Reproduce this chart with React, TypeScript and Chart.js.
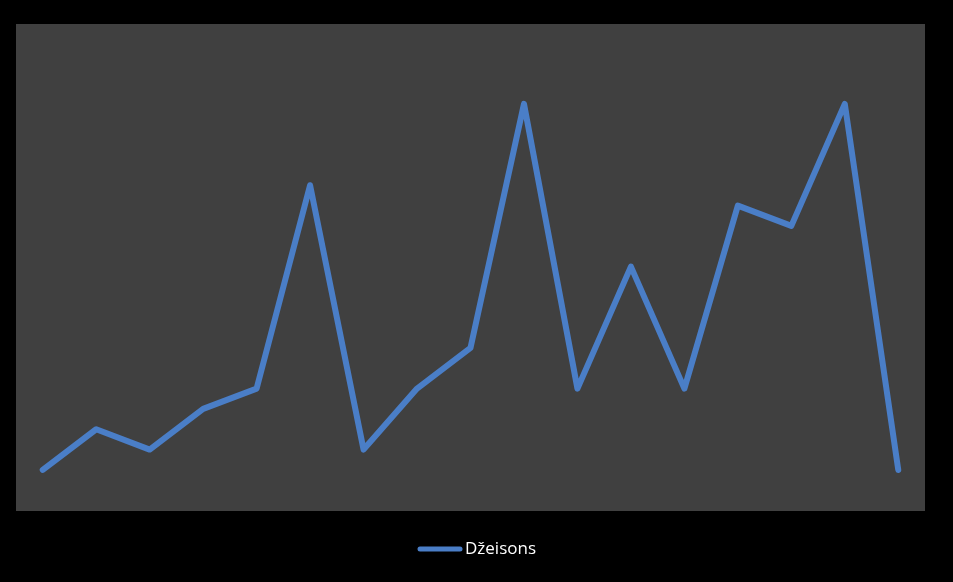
import React, { useEffect, useRef } from "react";
import { Chart, registerables } from "chart.js";

Chart.register(...registerables);

const categories = ["1", "2", "3", "4", "5", "6", "7", "8", "9", "10", "11", "12", "13", "14", "15", "16", "17"];
const seriesName = "Džeisons";
const seriesValues = [1, 3, 2, 4, 5, 15, 2, 5, 7, 19, 5, 11, 5, 14, 13, 19, 1];
const lineColor = "#4A7EC7";

const plotBg = {
  id: "plotBg",
  beforeDraw(chart: any) {
    const { ctx, chartArea } = chart;
    ctx.save();
    ctx.fillStyle = "#000000";
    ctx.fillRect(0, 0, chart.width, chart.height);
    ctx.fillStyle = "#404040";
    ctx.fillRect(chartArea.left, chartArea.top, chartArea.right - chartArea.left, chartArea.bottom - chartArea.top);
    ctx.restore();
  },
  afterDraw(chart: any) {
    const { ctx } = chart;
    const label = chart.data.datasets[0].label;
    ctx.save();
    ctx.font = "17px 'Open Sans', 'DejaVu Sans', sans-serif";
    const lineW = 40;
    const gap = 5;
    const x0 = 420;
    const y = 549;
    ctx.strokeStyle = chart.data.datasets[0].borderColor;
    ctx.lineWidth = 5;
    ctx.lineCap = "round";
    ctx.beginPath();
    ctx.moveTo(x0, y);
    ctx.lineTo(x0 + lineW, y);
    ctx.stroke();
    ctx.fillStyle = "#FFFFFF";
    ctx.textBaseline = "middle";
    ctx.textAlign = "left";
    ctx.fillText(label, x0 + lineW + gap, y);
    ctx.restore();
  },
};

export default function App() {
  const ref = useRef<HTMLCanvasElement>(null);
  useEffect(() => {
    document.body.style.margin = "0";
    document.body.style.background = "#000";
    const chart = new Chart(ref.current!, {
      type: "line",
      data: {
        labels: categories,
        datasets: [
          {
            label: seriesName,
            data: seriesValues,
            borderColor: lineColor,
            backgroundColor: lineColor,
            borderWidth: 6,
            borderCapStyle: "round",
            borderJoinStyle: "round",
            tension: 0,
            pointRadius: 0,
            pointHoverRadius: 0,
          },
        ],
      },
      options: {
        animation: false,
        responsive: false,
        maintainAspectRatio: false,
        layout: { padding: { left: 16, top: 24, right: 28, bottom: 71 } },
        plugins: { legend: { display: false }, tooltip: { enabled: false } },
        scales: {
          x: { type: "category", offset: true, display: false },
          y: { min: -1.02, max: 22.93, display: false },
        },
      },
      plugins: [plotBg],
    });
    return () => chart.destroy();
  }, []);
  return (
    <div style={{ position: "fixed", left: 0, top: 0, width: 953, height: 582, background: "#000" }}>
      <canvas ref={ref} width={953} height={582} style={{ display: "block" }} />
    </div>
  );
}
